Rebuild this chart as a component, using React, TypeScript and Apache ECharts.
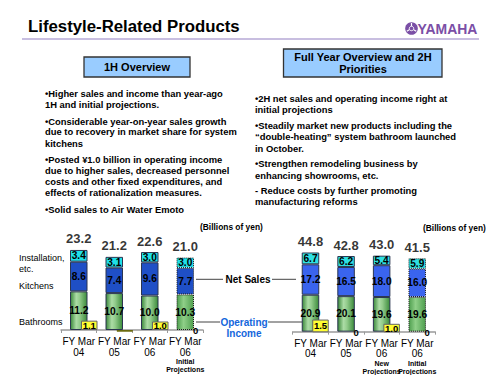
import React, { useEffect, useRef } from 'react';
import * as echarts from 'echarts';

// ---------- data ----------
const leftCategories = ['FY Mar 04', 'FY Mar 05', 'FY Mar 06', 'FY Mar 06 Initial'];
const leftYears = ['04', '05', '06', '06'];
const leftNotes = ['', '', '', 'Initial\nProjections'];
const leftBathrooms = [11.2, 10.7, 10.0, 10.3];
const leftKitchens = [8.6, 7.4, 9.6, 7.7];
const leftInstallation = [3.4, 3.1, 3.0, 3.0];
const leftTotals = [23.2, 21.2, 22.6, 21.0];
const leftOpIncome = [1.1, -0.2, 1.0, 0];
const leftProjection = [false, false, false, true];

const rightCategories = ['FY Mar 04', 'FY Mar 05', 'FY Mar 06 New', 'FY Mar 06 Initial'];
const rightYears = ['04', '05', '06', '06'];
const rightNotes = ['', '', 'New\nProjections', 'Initial\nProjections'];
const rightBathrooms = [20.9, 20.1, 19.6, 19.6];
const rightKitchens = [17.2, 16.5, 18.0, 16.0];
const rightInstallation = [6.7, 6.2, 5.4, 5.9];
const rightTotals = [44.8, 42.8, 43.0, 41.5];
const rightOpIncome = [1.5, 0, 1.0, 0];
const rightProjection = [false, false, false, true];

const leftBullets = [
  '•Higher sales and income than year-ago',
  '1H and initial projections.',
  '•Considerable year-on-year sales growth',
  'due to recovery in market share for system',
  'kitchens',
  '•Posted ¥1.0 billion in operating income',
  'due to higher sales, decreased personnel',
  'costs and other fixed expenditures, and',
  'effects of rationalization measures.',
  '•Solid sales to Air Water Emoto',
];
const rightBullets = [
  '•2H net sales and operating income right at',
  'initial projections',
  '•Steadily market new products including the',
  '“double-heating” system bathroom launched',
  'in October.',
  '•Strengthen remodeling business by',
  'enhancing showrooms, etc.',
  '- Reduce costs by further promoting',
  'manufacturing reforms',
];

const FONT = "'Liberation Sans', Arial, Helvetica, sans-serif";

function txt(x: number, y: number, text: string, o: any = {}) {
  return {
    type: 'text',
    x,
    y,
    scaleX: o.scaleX ?? 1,
    silent: true,
    style: {
      text,
      fontFamily: FONT,
      fontSize: o.size ?? 9.4,
      fontWeight: o.weight ?? 'bold',
      fill: o.color ?? '#000',
      textAlign: o.align ?? 'left',
      align: o.align ?? 'left',
      textVerticalAlign: 'middle',
      verticalAlign: 'middle',
    },
  };
}
function ln(x1: number, y1: number, x2: number, y2: number, color = '#444', w = 1) {
  return { type: 'line', silent: true, shape: { x1, y1, x2, y2 }, style: { stroke: color, lineWidth: w } };
}

function grad(stops: [number, string][]) {
  return {
    type: 'linear', x: 0, y: 0, x2: 1, y2: 0,
    colorStops: stops.map(([offset, color]) => ({ offset, color })),
  };
}

function buildNet(
  axis: number, bath: number[], kit: number[], inst: number[], totals: number[], proj: boolean[],
  blue: string, cyan: string,
) {
  const green = grad([[0, '#3a883a'], [0.35, '#acdca6'], [0.55, '#93cc8c'], [1, '#3b8b3b']]);
  const greenProj = grad([[0, '#4f9f4f'], [0.4, '#8fcf88'], [1, '#4f9f4f']]);
  const label = {
    show: true,
    position: 'inside',
    fontFamily: FONT,
    fontSize: 10.2,
    fontWeight: 'bold',
    color: '#000',
    formatter: (p: any) => Number(p.value).toFixed(1),
  };
  const item = (v: number, i: number, color: any) => ({
    value: v,
    itemStyle: {
      color,
      borderColor: proj[i] ? '#1a1a1a' : '#2b3550',
      borderWidth: 1,
      borderType: proj[i] ? 'dotted' : 'solid',
    },
  });
  return [
    {
      type: 'bar', stack: 'net' + axis, xAxisIndex: axis, yAxisIndex: axis, barWidth: 17.5,
      data: bath.map((v, i) => item(v, i, proj[i] ? greenProj : green)), label,
    },
    {
      type: 'bar', stack: 'net' + axis, xAxisIndex: axis, yAxisIndex: axis, barWidth: 17.5,
      data: kit.map((v, i) => item(v, i, blue)), label,
    },
    {
      type: 'bar', stack: 'net' + axis, xAxisIndex: axis, yAxisIndex: axis, barWidth: 17.5,
      data: inst.map((v, i) => item(v, i, cyan)), label,
    },
    {
      type: 'scatter', xAxisIndex: axis, yAxisIndex: axis, data: totals, symbolSize: 1,
      itemStyle: { color: 'rgba(0,0,0,0)' }, silent: true, z: 5,
      label: {
        show: true, position: 'top', distance: 4, fontFamily: FONT, fontSize: 13,
        fontWeight: 'bold', color: '#000', formatter: (p: any) => Number(p.value).toFixed(1),
      },
    },
  ];
}

function buildOp(axis: number, op: number[]) {
  return {
    type: 'bar', xAxisIndex: axis, yAxisIndex: axis, barWidth: 16.5, z: 4,
    data: op.map((v) => ({
      value: v,
      itemStyle: {
        color: v < 0 ? '#8c8a1e' : '#ffff33',
        borderColor: v < 0 ? '#6b6a10' : '#666',
        borderWidth: v === 0 ? 0 : 1,
      },
    })),
    label: {
      show: true, position: 'inside', fontFamily: FONT, fontSize: 9.5, fontWeight: 'bold', color: '#000',
      formatter: (p: any) => (p.value < 0 ? '' : p.value === 0 ? '0' : Number(p.value).toFixed(1)),
    },
  };
}

function catAxis(grid: number, cats: string[], years: string[], notes: string[], show: boolean) {
  return {
    type: 'category', gridIndex: grid, data: cats, show,
    axisLine: { show, lineStyle: { color: '#9a9a9a', width: 1.5 } },
    axisTick: { show, length: 3, lineStyle: { color: '#9a9a9a' } },
    axisLabel: {
      show, margin: 6, interval: 0,
      formatter: (_v: string, i: number) => {
        let s = `{a|FY Mar}\n{a|${years[i]}}`;
        if (notes[i]) s += '\n' + notes[i].split('\n').map((l) => `{b|${l}}`).join('\n');
        return s;
      },
      rich: {
        a: { fontFamily: FONT, fontSize: 10, color: '#000', lineHeight: 10.7 },
        b: { fontFamily: FONT, fontSize: 7, fontWeight: 'bold', color: '#000', lineHeight: 8.3 },
      },
    },
  };
}

export default function App() {
  const ref = useRef<HTMLDivElement>(null);
  useEffect(() => {
    if (!ref.current) return;
    const chart = echarts.init(ref.current, null, { renderer: 'svg' });

    const graphic: any[] = [];
    // Title & header
    graphic.push(txt(28, 26.5, 'Lifestyle-Related Products', { size: 16.8 }));
    graphic.push(ln(22, 39, 479, 39, '#b6a8d6', 1.5));
    graphic.push({ type: 'circle', silent: true, shape: { cx: 411.5, cy: 28.5, r: 6.3 }, style: { fill: '#7b4fa6' } });
    graphic.push({ type: 'circle', silent: true, shape: { cx: 411.5, cy: 28.5, r: 2.2 }, style: { fill: 'none', stroke: '#fff', lineWidth: 1 } });
    [90, 210, 330].forEach((a) => {
      const r = (a * Math.PI) / 180;
      graphic.push(ln(411.5 + Math.cos(r) * 2.5, 28.5 - Math.sin(r) * 2.5, 411.5 + Math.cos(r) * 5.5, 28.5 - Math.sin(r) * 5.5, '#fff', 1.2));
    });
    graphic.push(txt(417.5, 29, 'YAMAHA', { size: 15.5, color: '#7b4fa6', scaleX: 0.9 }));

    // Boxes
    graphic.push({ type: 'rect', silent: true, shape: { x: 84, y: 57, width: 106, height: 20 }, style: { fill: '#99ccff', stroke: '#333', lineWidth: 1.3 } });
    graphic.push(txt(137, 67, '1H Overview', { size: 11, align: 'center' }));
    graphic.push({ type: 'rect', silent: true, shape: { x: 283.5, y: 49, width: 158.5, height: 28 }, style: { fill: '#99ccff', stroke: '#333', lineWidth: 1.3 } });
    graphic.push(txt(363, 57.3, 'Full Year Overview and 2H', { size: 11, align: 'center' }));
    graphic.push(txt(363, 68.6, 'Priorities', { size: 11, align: 'center' }));

    const leftY = [93, 104.3, 121, 131.7, 143.3, 159.3, 170.7, 181.7, 192.7, 209];
    leftBullets.forEach((t, i) => graphic.push(txt(45, leftY[i], t)));
    const rightY = [98.3, 109.3, 125, 136.3, 148, 163.3, 175, 190, 201.7];
    rightBullets.forEach((t, i) => graphic.push(txt(255, rightY[i], t)));

    // chart annotations
    graphic.push(txt(200, 227, '(Billions of yen)', { size: 8.4 }));
    graphic.push(txt(423, 227.5, '(Billions of yen)', { size: 8.4 }));
    graphic.push(txt(19, 258.3, 'Installation,', { size: 9, weight: 'normal' }));
    graphic.push(txt(19, 268.6, 'etc.', { size: 9, weight: 'normal' }));
    graphic.push(txt(19, 286, 'Kitchens', { size: 9, weight: 'normal' }));
    graphic.push(txt(19, 321.7, 'Bathrooms', { size: 9, weight: 'normal' }));
    graphic.push(ln(196, 279.3, 223, 279.3));
    graphic.push(txt(248, 279.3, 'Net Sales', { size: 10, align: 'center' }));
    graphic.push(ln(272, 279.3, 296, 279.3));
    graphic.push(ln(196, 322, 220, 322));
    graphic.push(txt(244, 322, 'Operating', { size: 10, align: 'center', color: '#1466dc' }));
    graphic.push(txt(244, 333, 'Income', { size: 10, align: 'center', color: '#1466dc' }));
    graphic.push(ln(268, 322, 302, 322));

    const option: any = {
      animation: false,
      backgroundColor: '#fff',
      grid: [
        { left: 61, top: 226.5, width: 142, height: 103.5 },
        { left: 71.5, top: 245, width: 142, height: 102 },
        { left: 292.7, top: 243.3, width: 142.3, height: 89 },
        { left: 302.7, top: 247.3, width: 142.3, height: 102 },
      ],
      xAxis: [
        catAxis(0, leftCategories, leftYears, leftNotes, true),
        catAxis(1, leftCategories, leftYears, leftNotes, false),
        catAxis(2, rightCategories, rightYears, rightNotes, true),
        catAxis(3, rightCategories, rightYears, rightNotes, false),
      ],
      yAxis: [
        { type: 'value', gridIndex: 0, min: 0, max: 30, show: false },
        { type: 'value', gridIndex: 1, min: -2, max: 10, show: false },
        { type: 'value', gridIndex: 2, min: 0, max: 50, show: false },
        { type: 'value', gridIndex: 3, min: -2, max: 10, show: false },
      ],
      series: [
        ...buildNet(0, leftBathrooms, leftKitchens, leftInstallation, leftTotals, leftProjection, '#1f4fc6', '#1fe0e8'),
        buildOp(1, leftOpIncome),
        ...buildNet(2, rightBathrooms, rightKitchens, rightInstallation, rightTotals, rightProjection, '#3a64ee', '#2ee0e2'),
        buildOp(3, rightOpIncome),
      ],
      graphic,
    };
    chart.setOption(option);
    return () => chart.dispose();
  }, []);

  return (
    <div
      ref={ref}
      style={{ position: 'absolute', left: 0, top: 0, width: 500, height: 375, background: '#fff' }}
    />
  );
}
